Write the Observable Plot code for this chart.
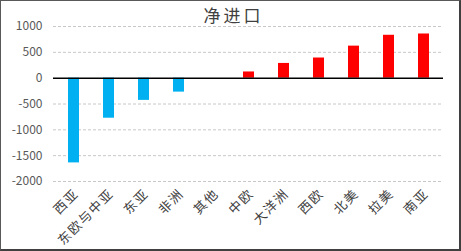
<!DOCTYPE html>
<html>
<head>
<meta charset="utf-8">
<script src="https://cdn.jsdelivr.net/npm/d3@7"></script>
<script src="https://cdn.jsdelivr.net/npm/@observablehq/plot@0.6"></script>
<style>
  html, body { margin: 0; padding: 0; background: #fff; }
  #wrap { position: relative; width: 461px; height: 251px; overflow: hidden; }
  #frame { position: absolute; left: 0; top: 0; width: 461px; height: 251px; box-sizing: border-box;
           border: 1px solid #595959; border-right: 2px solid #404040; border-bottom: 2px solid #404040; pointer-events: none; }
  #title { position: absolute; left: 3px; top: 2px; width: 461px; text-align: center;
           font-family: "Noto Sans CJK SC", sans-serif; font-size: 17px; color: #404040; letter-spacing: 3px; }
  #chart { position: absolute; left: 0; top: 0; }
  .xlab text { letter-spacing: 1.5px; }
</style>
</head>
<body>
<div id="wrap">
  <div id="chart"></div>
  <div id="title">净进口</div>
  <div id="frame"></div>
</div>
<script>
const categories = ["西亚", "东欧与中亚", "东亚", "非洲", "其他", "中欧", "大洋洲", "西欧", "北美", "拉美", "南亚"];
const values = [-1640, -775, -430, -270, 0, 120, 285, 390, 620, 830, 855];
const yTicks = [1000, 500, 0, -500, -1000, -1500, -2000];

const data = categories.map((c, i) => ({ category: c, value: values[i] }));

const plot = Plot.plot({
  width: 461,
  height: 251,
  marginLeft: 53,
  marginRight: 18,
  marginTop: 26,
  marginBottom: 70,
  style: { fontFamily: "'Noto Sans CJK SC', sans-serif", background: "transparent", overflow: "visible" },
  x: { domain: categories, paddingInner: 0.69, paddingOuter: 0.345, label: null, axis: null },
  y: { domain: [-2000, 1000], label: null },
  marks: [
    Plot.ruleY(yTicks.filter(d => d !== 0), { stroke: "#c8c8c8", strokeDasharray: "3,2", strokeWidth: 1 }),
    Plot.barY(data, { x: "category", y: "value", fill: d => d.value < 0 ? "#00B0F0" : "#FF0000" }),
    Plot.ruleY([0], { stroke: "#000", strokeWidth: 1.5 }),
    Plot.axisY(yTicks, { tickSize: 0, tickPadding: 11, tickFormat: d => String(d), fontSize: 12, color: "#595959", label: null }),
    Plot.text(categories, { x: d => d, frameAnchor: "bottom", rotate: -45, textAnchor: "end", lineAnchor: "middle",
      dx: 2.5, dy: 10, fontSize: 13, fill: "#404040", className: "xlab" })
  ]
});
document.getElementById("chart").appendChild(plot);
</script>
</body>
</html>
